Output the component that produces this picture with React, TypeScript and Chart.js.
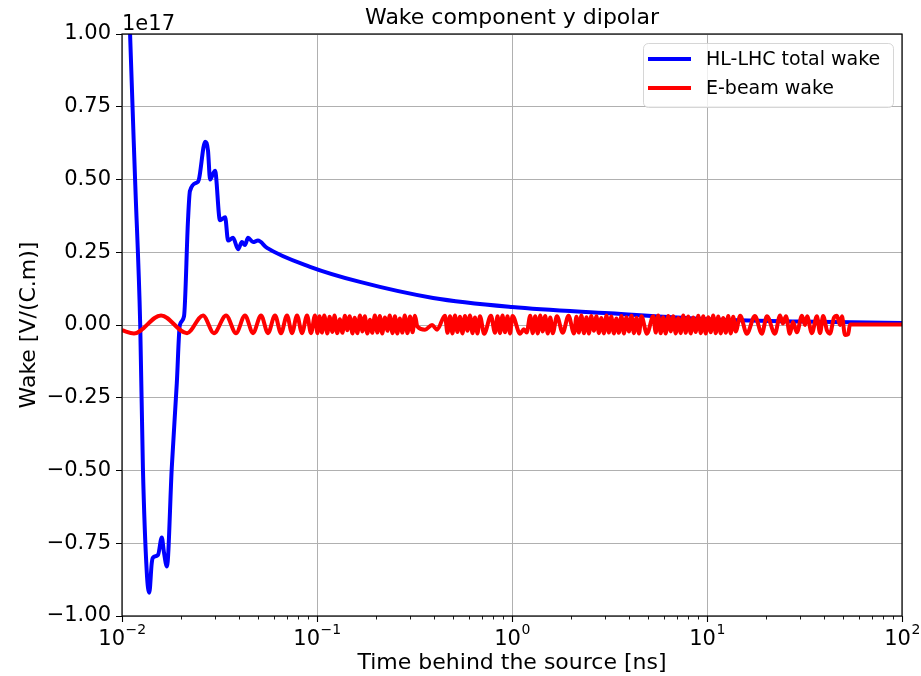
import React, { useEffect, useRef } from 'react';
import { Chart, registerables } from 'chart.js';

Chart.register(...registerables);

const FONT = '"DejaVu Sans", sans-serif';

const titleText = 'Wake component y dipolar';
const xLabel = 'Time behind the source [ns]';
const yLabel = 'Wake [V/(C.m)]';
const offsetText = '1e17';
const seriesNames = ['HL-LHC total wake', 'E-beam wake'];
const seriesColors = ['#0000ff', '#ff0000'];

// HL-LHC total wake (units of 1e17 V/(C.m)) vs time [ns]
const blueTime = [
  0.0104, 0.0110, 0.0117, 0.0124, 0.0128, 0.0134, 0.0138, 0.0142, 0.0144, 0.0153,
  0.0160, 0.0164, 0.0170, 0.0180, 0.0191, 0.0198, 0.0208, 0.0218, 0.0223, 0.0243,
  0.0248, 0.0267, 0.0276, 0.0283, 0.0293, 0.0300, 0.0318, 0.0338, 0.0350, 0.0371,
  0.0394, 0.0412, 0.0427, 0.0443, 0.0470, 0.0498, 0.0554, 0.0921, 0.166, 0.394,
  1.0, 3.18, 10, 30, 100,
];
const blueWake = [
  1.60, 1.00, 0.48, 0.00, -0.49, -0.85, -0.92, -0.82, -0.80, -0.79,
  -0.73, -0.78, -0.83, -0.49, -0.20, 0.00, 0.03, 0.36, 0.46, 0.49,
  0.50, 0.63, 0.60, 0.50, 0.52, 0.53, 0.36, 0.37, 0.29, 0.30,
  0.26, 0.285, 0.275, 0.30, 0.285, 0.29, 0.265, 0.20, 0.148, 0.093,
  0.062, 0.040, 0.020, 0.012, 0.007,
];

// E-beam wake (units of 1e17 V/(C.m)) vs time [ns]
const redTime = [
  0.0100, 0.01152, 0.01585, 0.02155, 0.02603, 0.02962, 0.03418, 0.03842, 0.04273, 0.04697,
  0.05162, 0.05607, 0.06090, 0.06537, 0.07019, 0.07446, 0.07899, 0.08380, 0.08889, 0.09316,
  0.09767, 0.1005, 0.103, 0.106, 0.109, 0.113, 0.116, 0.120, 0.123, 0.127,
  0.131, 0.135, 0.139, 0.143, 0.147, 0.152, 0.156, 0.161, 0.166, 0.171,
  0.176, 0.181, 0.187, 0.192, 0.198, 0.204, 0.210, 0.216, 0.223, 0.230,
  0.236, 0.244, 0.251, 0.258, 0.266, 0.274, 0.282, 0.291, 0.300, 0.309,
  0.318, 0.327, 0.358, 0.389, 0.413, 0.453, 0.467, 0.481, 0.495, 0.510,
  0.525, 0.541, 0.557, 0.574, 0.591, 0.609, 0.627, 0.646, 0.665, 0.685,
  0.720, 0.780, 0.818, 0.843, 0.868, 0.894, 0.921, 0.948, 0.977, 1.006,
  1.100, 1.150, 1.190, 1.240, 1.277, 1.315, 1.355, 1.395, 1.437, 1.480,
  1.525, 1.571, 1.618, 1.700, 1.820, 1.950, 2.080, 2.140, 2.200, 2.270,
  2.340, 2.410, 2.480, 2.550, 2.630, 2.710, 2.790, 2.870, 2.960, 3.050,
  3.140, 3.230, 3.330, 3.430, 3.530, 3.640, 3.750, 3.860, 3.980, 4.100,
  4.220, 4.350, 4.480, 4.610, 4.920, 5.300, 5.460, 5.620, 5.790, 5.960,
  6.140, 6.330, 6.520, 6.710, 6.910, 7.120, 7.330, 7.550, 7.780, 8.010,
  8.250, 8.500, 8.750, 9.020, 9.290, 9.570, 9.850, 10.15, 10.45, 10.76,
  11.09, 11.42, 11.76, 12.11, 12.48, 12.85, 13.24, 13.63, 14.04, 14.80,
  16.00, 17.60, 19.10, 20.30, 22.30, 23.70, 24.50, 25.40, 26.60, 27.60,
  28.90, 30.70, 31.80, 32.60, 34.50, 36.60, 38.00, 39.40, 41.30, 42.70,
  44.80, 46.40, 48.10, 49.20, 51.00, 52.90, 54.10, 100,
];
const redWake = [
  -0.018, -0.029, 0.033, -0.028, 0.033, -0.028, 0.033, -0.028, 0.033, -0.028,
  0.033, -0.028, 0.033, -0.028, 0.033, -0.028, 0.033, -0.028, 0.033, -0.028,
  0.033, -0.028, 0.030, -0.026, 0.033, -0.029, 0.028, -0.024, 0.033, -0.028,
  0.020, -0.027, 0.032, -0.018, 0.030, -0.029, 0.025, -0.028, 0.033, -0.022,
  0.030, -0.029, 0.018, -0.027, 0.033, -0.026, 0.031, -0.029, 0.026, -0.020,
  0.033, -0.028, 0.030, -0.029, 0.022, -0.026, 0.033, -0.028, 0.029, -0.025,
  0.032, -0.005, -0.016, 0.000, -0.016, 0.032, -0.027, 0.030, -0.029, 0.033,
  -0.024, 0.028, -0.029, 0.031, -0.020, 0.033, -0.028, 0.026, -0.029, 0.030,
  -0.030, 0.032, -0.027, 0.030, -0.028, 0.033, -0.025, 0.030, -0.029, 0.031,
  -0.030, -0.015, -0.026, 0.032, -0.028, 0.030, -0.029, 0.033, -0.022, 0.031,
  -0.029, 0.026, -0.028, 0.030, -0.027, 0.032, -0.029, 0.028, -0.026, 0.033,
  -0.028, 0.027, -0.029, 0.031, -0.020, 0.030, -0.028, 0.024, -0.029, 0.033,
  -0.026, 0.029, -0.029, 0.022, -0.027, 0.031, -0.029, 0.027, -0.022, 0.032,
  -0.028, 0.025, -0.029, 0.030, -0.030, 0.030, -0.026, 0.033, -0.028, 0.027,
  -0.029, 0.031, -0.022, 0.030, -0.029, 0.024, -0.028, 0.033, -0.027, 0.029,
  -0.029, 0.026, -0.024, 0.032, -0.028, 0.030, -0.029, 0.027, -0.025, 0.033,
  -0.028, 0.029, -0.029, 0.024, -0.027, 0.031, -0.029, 0.028, -0.022, 0.032,
  -0.030, 0.031, -0.030, 0.030, -0.030, 0.033, 0.005, 0.030, -0.030, 0.010,
  -0.025, 0.032, 0.000, 0.030, -0.028, 0.030, -0.028, 0.031, -0.020, -0.030,
  0.025, 0.032, 0.000, 0.030, -0.034, -0.032, 0.002, 0.002,
];

const xMin = 0.01;
const xMax = 100;
const yMin = -1;
const yMax = 1;
const yStep = 0.25;
const xMajorTicks = [0.01, 0.1, 1, 10, 100];
const xTickBase = '10';
const xTickExponents = ['\u22122', '\u22121', '0', '1', '2'];
const xMinorTicks = [
  0.02, 0.03, 0.04, 0.05, 0.06, 0.07, 0.08, 0.09,
  0.2, 0.3, 0.4, 0.5, 0.6, 0.7, 0.8, 0.9,
  2, 3, 4, 5, 6, 7, 8, 9,
  20, 30, 40, 50, 60, 70, 80, 90,
];

const TICK_SIZE = 21;
const LABEL_SIZE = 22;
const TITLE_SIZE = 22;
const LEGEND_SIZE = 19;

const decorPlugin = {
  id: 'decor',
  afterDraw(chart: any) {
    const { ctx, chartArea: a, scales } = chart;
    const xs = scales.x;
    ctx.save();
    ctx.strokeStyle = '#000';
    ctx.fillStyle = '#000';

    // frame
    ctx.lineWidth = 1.2;
    ctx.strokeRect(a.left, a.top, a.right - a.left, a.bottom - a.top);

    // x major & minor tick marks
    ctx.lineWidth = 1.1;
    for (const v of xMajorTicks) {
      const px = Math.round(xs.getPixelForValue(v)) + 0.5;
      ctx.beginPath();
      ctx.moveTo(px, a.bottom);
      ctx.lineTo(px, a.bottom + 6);
      ctx.stroke();
    }
    ctx.lineWidth = 0.9;
    for (const v of xMinorTicks) {
      const px = Math.round(xs.getPixelForValue(v)) + 0.5;
      ctx.beginPath();
      ctx.moveTo(px, a.bottom);
      ctx.lineTo(px, a.bottom + 3.5);
      ctx.stroke();
    }

    // x tick labels 10^n
    ctx.textBaseline = 'alphabetic';
    ctx.textAlign = 'left';
    xMajorTicks.forEach((v, i) => {
      const px = xs.getPixelForValue(v);
      ctx.font = `${TICK_SIZE}px ${FONT}`;
      const w1 = ctx.measureText(xTickBase).width;
      ctx.font = `14px ${FONT}`;
      const w2 = ctx.measureText(xTickExponents[i]).width;
      const start = px - (w1 + w2) / 2;
      ctx.font = `${TICK_SIZE}px ${FONT}`;
      ctx.fillText(xTickBase, start, 645);
      ctx.font = `14px ${FONT}`;
      ctx.fillText(xTickExponents[i], start + w1 + 0.5, 634);
    });

    // offset text
    ctx.font = `${TICK_SIZE}px ${FONT}`;
    ctx.textAlign = 'left';
    ctx.fillText(offsetText, a.left, 30);

    // title
    ctx.textAlign = 'center';
    ctx.font = `${TITLE_SIZE}px ${FONT}`;
    ctx.fillText(titleText, (a.left + a.right) / 2, 24);

    // x label
    ctx.textBaseline = 'middle';
    ctx.font = `${LABEL_SIZE}px ${FONT}`;
    ctx.fillText(xLabel, (a.left + a.right) / 2, 663);

    // y label
    ctx.save();
    ctx.translate(29, (a.top + a.bottom) / 2);
    ctx.rotate(-Math.PI / 2);
    ctx.fillText(yLabel, 0, 0);
    ctx.restore();

    // legend
    const bx = 643, by = 43, bw = 250, bh = 64;
    ctx.beginPath();
    if ((ctx as any).roundRect) (ctx as any).roundRect(bx + 0.5, by + 0.5, bw, bh, 5);
    else ctx.rect(bx + 0.5, by + 0.5, bw, bh);
    ctx.fillStyle = 'rgba(255,255,255,0.8)';
    ctx.fill();
    ctx.strokeStyle = 'rgba(204,204,204,0.8)';
    ctx.lineWidth = 1;
    ctx.stroke();
    const rows = [59, 88];
    ctx.lineCap = 'butt';
    seriesNames.forEach((name, i) => {
      ctx.strokeStyle = seriesColors[i];
      ctx.lineWidth = 4;
      ctx.beginPath();
      ctx.moveTo(648, rows[i]);
      ctx.lineTo(691, rows[i]);
      ctx.stroke();
      ctx.fillStyle = '#000';
      ctx.font = `${LEGEND_SIZE}px ${FONT}`;
      ctx.textAlign = 'left';
      ctx.textBaseline = 'middle';
      ctx.fillText(name, 706, rows[i] + 1);
    });
    ctx.restore();
  },
};

export default function App() {
  const ref = useRef<HTMLCanvasElement | null>(null);

  useEffect(() => {
    if (!ref.current) return;
    Chart.defaults.font.family = FONT;
    Chart.defaults.color = '#000';
    const chart = new Chart(ref.current, {
      type: 'line',
      data: {
        datasets: [
          {
            label: seriesNames[0],
            data: blueTime.map((t, i) => ({ x: t, y: blueWake[i] })),
            borderColor: seriesColors[0],
            backgroundColor: seriesColors[0],
            borderWidth: 4,
            pointRadius: 0,
            cubicInterpolationMode: 'monotone',
            clip: 0,
            order: 1,
          },
          {
            label: seriesNames[1],
            data: redTime.map((t, i) => ({ x: t, y: redWake[i] })),
            borderColor: seriesColors[1],
            backgroundColor: seriesColors[1],
            borderWidth: 4,
            pointRadius: 0,
            cubicInterpolationMode: 'monotone',
            clip: 0,
            order: 0,
          },
        ],
      },
      options: {
        animation: false,
        responsive: false,
        maintainAspectRatio: false,
        events: [],
        layout: { padding: { top: 34, right: 19, bottom: 0, left: 0 } },
        plugins: {
          legend: { display: false },
          title: { display: false },
          tooltip: { enabled: false },
        },
        scales: {
          x: {
            type: 'logarithmic',
            min: xMin,
            max: xMax,
            afterBuildTicks: (scale: any) => {
              scale.ticks = xMajorTicks.map((v) => ({ value: v }));
            },
            afterFit: (scale: any) => {
              scale.height = 60;
            },
            ticks: { display: false },
            grid: { color: '#b0b0b0', lineWidth: 1, drawTicks: false },
            border: { display: false },
          },
          y: {
            type: 'linear',
            min: yMin,
            max: yMax,
            afterFit: (scale: any) => {
              scale.width = 122;
            },
            ticks: {
              stepSize: yStep,
              padding: 5,
              font: { size: TICK_SIZE, family: FONT },
              color: '#000',
              callback: (v: any) => {
                const n = Number(v);
                return (n < 0 ? '\u2212' : '') + Math.abs(n).toFixed(2);
              },
            },
            grid: { color: '#b0b0b0', lineWidth: 1, tickColor: '#000', tickLength: 6 },
            border: { display: false },
          },
        },
      },
      plugins: [decorPlugin],
    } as any);
    return () => chart.destroy();
  }, []);

  return (
    <div style={{ position: 'fixed', left: 0, top: 0, width: 921, height: 676, background: '#fff' }}>
      <canvas ref={ref} width={921} height={676} style={{ display: 'block' }} />
    </div>
  );
}
